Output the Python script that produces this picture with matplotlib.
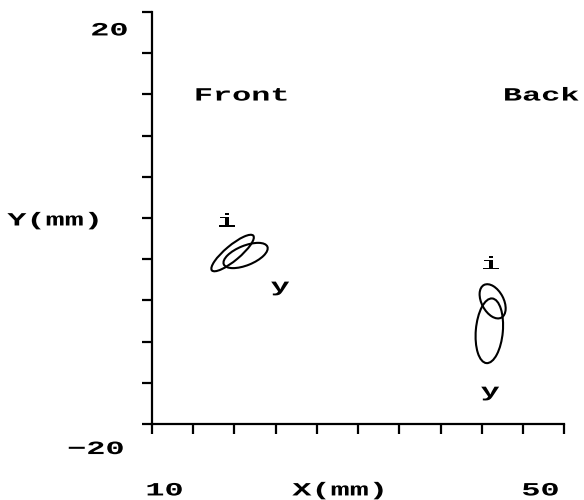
import matplotlib
matplotlib.use("Agg")
import matplotlib.pyplot as plt
import numpy as np
from matplotlib.patches import Ellipse
from matplotlib import patheffects
from matplotlib.transforms import Affine2D

# ---- data ----
x_ticks = list(range(10, 51, 4))
y_ticks = list(range(-20, 21, 4))

ell_names = ["front_i", "front_y", "back_i", "back_y"]
ell_cx = [17.84, 19.10, 43.05, 42.73]
ell_cy = [-3.40, -3.64, -8.09, -10.95]
ell_w = [5.24, 4.56, 3.59, 6.30]
ell_h = [1.45, 1.90, 2.13, 2.62]
ell_ang = [40, 22, -62, 85]

labels = ["20", "\u221220", "10", "X(mm)", "50", "Y(mm)", "Front", "Back", "i", "y", "i", "y"]
label_x = [5.86, 4.55, 11.2, 28.16, 47.65, 0.53, 18.66, 47.74, 17.2, 22.44, 42.8, 42.8]
label_y = [18.16, -22.48, -26.5, -26.5, -26.5, -0.29, 11.84, 11.84, -0.4, -6.7, -4.56, -16.9]


class StretchX(patheffects.AbstractPathEffect):
    def __init__(self, sx):
        super().__init__()
        self.sx = sx

    def draw_path(self, renderer, gc, tpath, affine, rgbFace=None):
        verts = affine.transform(tpath.vertices)
        if len(verts):
            x0 = 0.5 * (verts[:, 0].min() + verts[:, 0].max())
        else:
            x0 = 0
        new_aff = affine + Affine2D().translate(-x0, 0).scale(self.sx, 1).translate(x0, 0)
        renderer.draw_path(gc, tpath, new_aff, rgbFace)


fig = plt.figure(figsize=(5.84, 5.0), dpi=100)
ax = fig.add_axes([0.2598, 0.152, 0.7065, 0.824])
ax.set_xlim(10, 50)
ax.set_ylim(-20, 20)

for s in ["top", "right"]:
    ax.spines[s].set_visible(False)
for s in ["left", "bottom"]:
    ax.spines[s].set_linewidth(1.6)
    ax.spines[s].set_color("black")

ax.set_xticks(x_ticks)
ax.set_yticks(y_ticks)
ax.tick_params(direction="out", length=7, width=1.6, labelbottom=False, labelleft=False)

for cx, cy, w, h, a in zip(ell_cx, ell_cy, ell_w, ell_h, ell_ang):
    ax.add_patch(Ellipse((cx, cy), w, h, angle=a, fill=False, edgecolor="black", linewidth=1.5))

for t, x, y in zip(labels, label_x, label_y):
    ax.text(x, y, t, ha="center", va="center", fontsize=13.5, fontweight="bold",
            family=["Liberation Mono", "DejaVu Sans Mono"], color="black", clip_on=False,
            path_effects=[StretchX(1.7)])

fig.savefig("out.png", dpi=100)
